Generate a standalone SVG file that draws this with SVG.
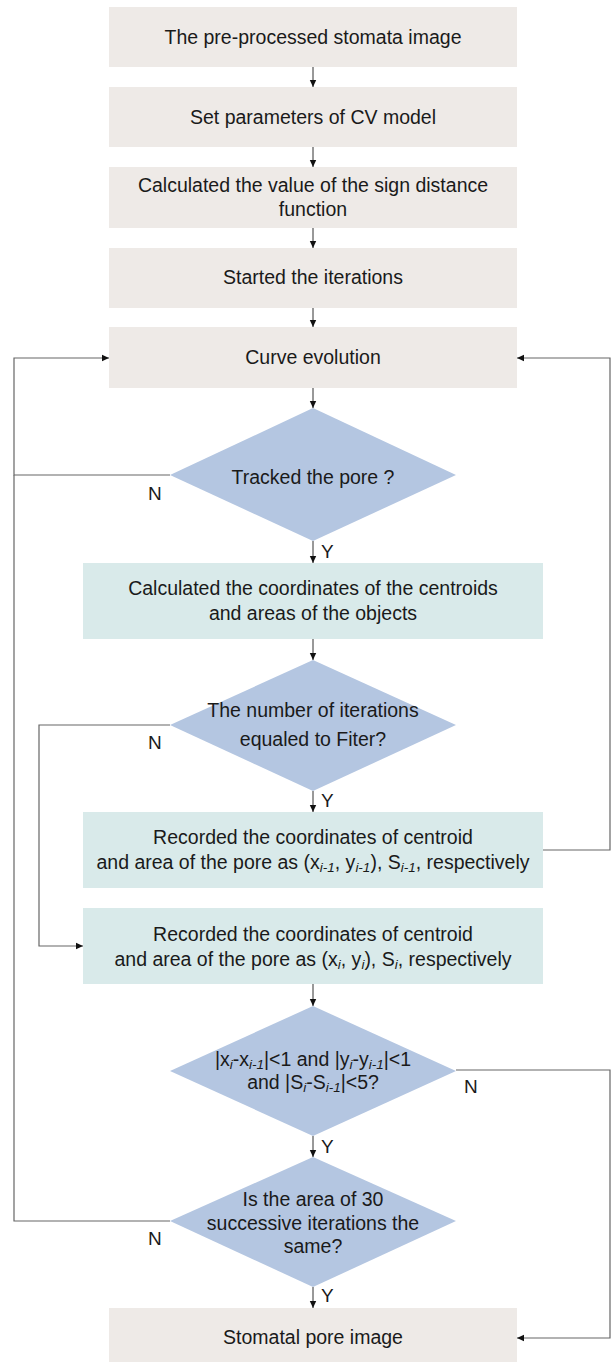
<svg xmlns="http://www.w3.org/2000/svg" width="611" height="1362" viewBox="0 0 611 1362">
<style>
text{font-family:"Liberation Sans",Arial,sans-serif;font-size:19.5px;fill:#1a1a1a;text-anchor:middle}
.beige{fill:#EEEAE7}
.teal{fill:#D9EAEA}
.dia{fill:#B4C6E1}
.lbl{text-anchor:start;font-size:19px}
.c{fill:none;stroke:#333;stroke-width:1}
.g{fill:none;stroke:#666;stroke-width:1.2}
.s{font-size:13.5px;font-style:italic}
</style>
<defs>
<marker id="ah" markerWidth="8" markerHeight="8" refX="7" refY="4" orient="auto" markerUnits="userSpaceOnUse">
<path d="M0,0.8 L7,4 L0,7.2 z" fill="#111"/>
</marker>
</defs>
<rect width="611" height="1362" fill="#fff"/>
<g id="connectors">
<line class="c" x1="313" y1="67" x2="313" y2="87" marker-end="url(#ah)"/>
<line class="c" x1="313" y1="147" x2="313" y2="167" marker-end="url(#ah)"/>
<line class="c" x1="313" y1="228" x2="313" y2="248" marker-end="url(#ah)"/>
<line class="c" x1="313" y1="308" x2="313" y2="327" marker-end="url(#ah)"/>
<line class="c" x1="313" y1="388" x2="313" y2="408" marker-end="url(#ah)"/>
<line class="c" x1="313" y1="541" x2="313" y2="563" marker-end="url(#ah)"/>
<line class="c" x1="313" y1="639" x2="313" y2="660" marker-end="url(#ah)"/>
<line class="c" x1="313" y1="791" x2="313" y2="812" marker-end="url(#ah)"/>
<line class="c" x1="313" y1="984" x2="313" y2="1006" marker-end="url(#ah)"/>
<line class="c" x1="313" y1="1136" x2="313" y2="1157" marker-end="url(#ah)"/>
<line class="c" x1="313" y1="1287" x2="313" y2="1308" marker-end="url(#ah)"/>
<path class="g" d="M170,475 H14 V358 H109" marker-end="url(#ah)"/>
<path class="g" d="M170,1221 H14 V475"/>
<path class="g" d="M170,725 H39 V946 H83" marker-end="url(#ah)"/>
<path class="g" d="M543,850 H610 V358 H517" marker-end="url(#ah)"/>
<path class="g" d="M456,1070 H610 V1338 H517" marker-end="url(#ah)"/>
<text class="lbl" x="148" y="500">N</text>
<text class="lbl" x="321" y="558">Y</text>
<text class="lbl" x="148" y="749">N</text>
<text class="lbl" x="321" y="807">Y</text>
<text class="lbl" x="464" y="1093">N</text>
<text class="lbl" x="321" y="1153">Y</text>
<text class="lbl" x="148" y="1245">N</text>
<text class="lbl" x="321" y="1302">Y</text>
</g>
<g id="n1"><rect class="beige" x="109" y="7" width="408" height="60"/><text x="313" y="44">The pre-processed stomata image</text></g>
<g id="n2"><rect class="beige" x="109" y="87" width="408" height="60"/><text x="313" y="124">Set parameters of CV model</text></g>
<g id="n3"><rect class="beige" x="109" y="167" width="408" height="61"/><text x="313" y="192">Calculated the value of the sign distance</text><text x="313" y="216">function</text></g>
<g id="n4"><rect class="beige" x="109" y="248" width="408" height="60"/><text x="313" y="284">Started the iterations</text></g>
<g id="n5"><rect class="beige" x="109" y="327" width="408" height="61"/><text x="313" y="364">Curve evolution</text></g>
<g id="d1"><polygon class="dia" points="313,408 456,475 313,541 170,475"/><text x="313" y="484">Tracked the pore ?</text></g>
<g id="n6"><rect class="teal" x="83" y="563" width="460" height="76"/><text x="313" y="595">Calculated the coordinates of the centroids</text><text x="313" y="620">and areas of the objects</text></g>
<g id="d2"><polygon class="dia" points="313,660 456,725 313,791 170,725"/><text x="313" y="717">The number of iterations</text><text x="313" y="746">equaled to Fiter?</text></g>
<g id="n7"><rect class="teal" x="83" y="812" width="460" height="76"/><text x="313" y="844">Recorded the coordinates of centroid</text><text x="313" y="869">and area of the pore as (x<tspan class="s" dy="3">i-1</tspan><tspan dy="-3">, y</tspan><tspan class="s" dy="3">i-1</tspan><tspan dy="-3">), S</tspan><tspan class="s" dy="3">i-1</tspan><tspan dy="-3">, respectively</tspan></text></g>
<g id="n8"><rect class="teal" x="83" y="908" width="460" height="76"/><text x="313" y="941">Recorded the coordinates of centroid</text><text x="313" y="966">and area of the pore as (x<tspan class="s" dy="3">i</tspan><tspan dy="-3">, y</tspan><tspan class="s" dy="3">i</tspan><tspan dy="-3">), S</tspan><tspan class="s" dy="3">i</tspan><tspan dy="-3">, respectively</tspan></text></g>
<g id="d3"><polygon class="dia" points="313,1006 456,1071 313,1136 170,1071"/><text x="313" y="1066">|x<tspan class="s" dy="3">i</tspan><tspan dy="-3">-x</tspan><tspan class="s" dy="3">i-1</tspan><tspan dy="-3">|&lt;1 and |y</tspan><tspan class="s" dy="3">i</tspan><tspan dy="-3">-y</tspan><tspan class="s" dy="3">i-1</tspan><tspan dy="-3">|&lt;1</tspan></text><text x="313" y="1089">and |S<tspan class="s" dy="3">i</tspan><tspan dy="-3">-S</tspan><tspan class="s" dy="3">i-1</tspan><tspan dy="-3">|&lt;5?</tspan></text></g>
<g id="d4"><polygon class="dia" points="313,1157 456,1221 313,1287 170,1221"/><text x="313" y="1206">Is the area of 30</text><text x="313" y="1230">successive iterations the</text><text x="313" y="1253">same?</text></g>
<g id="n9"><rect class="beige" x="109" y="1308" width="408" height="54"/><text x="313" y="1344">Stomatal pore image</text></g>
</svg>
